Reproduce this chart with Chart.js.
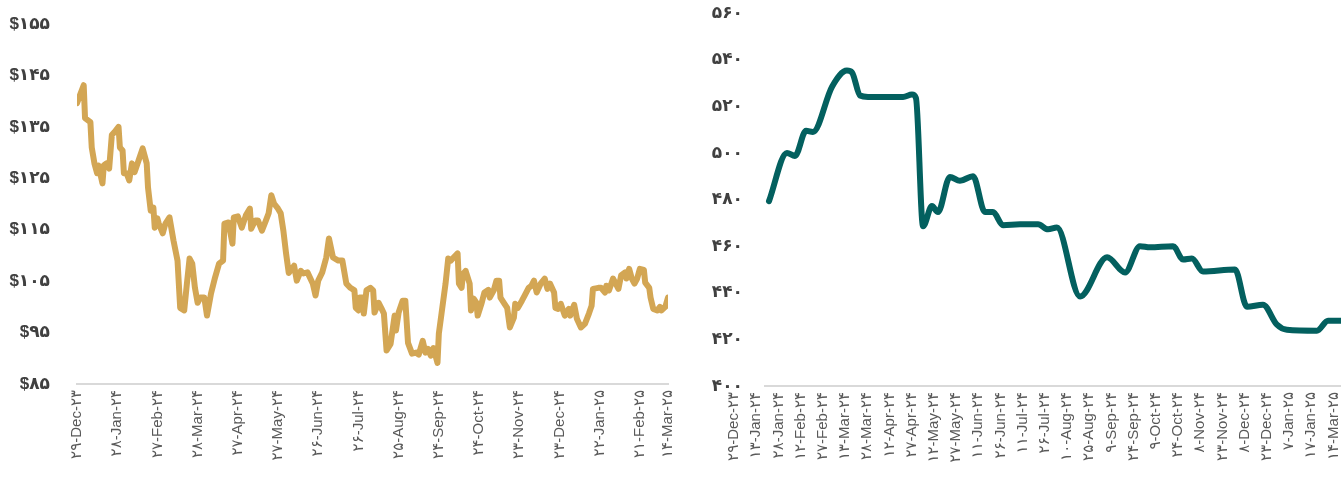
<!DOCTYPE html>
<html>
<head>
<meta charset="utf-8">
<script src="https://cdn.jsdelivr.net/npm/chart.js@4.4.1/dist/chart.umd.min.js"></script>
<style>
    html, body { margin: 0; padding: 0; background: #fff; overflow: hidden; }
    #left-box { position: absolute; left: 0; top: 0; width: 680px; height: 487px; }
    #right-box { position: absolute; left: 680px; top: 0; width: 700px; height: 487px; }
</style>
</head>
<body>
<div id="left-box"><canvas id="gold-chart"></canvas></div>
<div id="right-box"><canvas id="teal-chart"></canvas></div>
<script>
// 左: 日数(29-Dec-23からの経過日) と 価格
const goldDays = [0,5,6,10,11,13,15,16,19,20,22,24,26,28,31,32,34,35,37,39,41,43,46,49,52,53,55,57,58,60,61,64,66,69,72,75,77,80,82,84,86,88,90,92,95,97,100,103,106,109,110,113,116,117,120,123,126,129,130,133,135,138,141,143,145,147,150,152,154,156,158,162,164,167,169,172,176,178,180,183,186,188,191,195,198,201,204,207,208,210,211,213,214,216,219,221,222,225,227,229,231,234,237,238,240,243,245,247,250,253,255,258,260,262,264,266,269,270,272,275,277,279,281,284,285,287,288,290,293,294,296,298,299,302,304,307,308,311,313,315,316,319,321,323,326,327,329,332,334,337,339,341,343,346,349,351,353,356,357,359,361,364,367,368,371,373,376,379,382,384,385,389,391,394,395,397,400,402,404,406,409,410,412,414,416,418,420,423,424,427,428,430,433,435,436,439,441];
const goldValues = [139.6,143.1,136.7,135.9,131,127.9,126,127.5,124,127.5,127.9,126.9,133.4,134,135,131,130.4,126,126,124.6,127.9,126.2,128.5,130.8,127.9,123.2,118.7,119.3,115.4,117.2,116.2,114.3,116.2,117.4,112.9,109,99.8,99.3,104.5,109.4,108.4,103.7,100.8,101.8,101.8,98.3,102.6,105.7,108.4,109,116.2,116.4,112.3,117.4,117.6,115.4,117.8,119.1,115.2,116.8,116.8,114.8,116.8,118.2,121.7,120.1,119.1,118.2,114.8,110.4,106.6,108,105.1,107,106.5,106.7,104.5,102.2,105.1,106.7,109.6,113.3,109.6,109,109,104.5,103.7,103.2,99.8,99.3,101.8,101.8,98.7,103.2,103.7,103.2,98.9,100.8,99.8,98.7,91.5,92.8,98.3,95.4,98.9,101.2,101.2,93,90.9,91.1,90.7,93.4,91.1,91.8,90.5,92,89.1,94.8,98.7,104.5,109.4,109,109.6,110.4,104.5,103.7,106.4,107,104.5,99.3,101.6,100.8,98.3,100.8,102.8,103.3,101.8,103.2,105.1,105.1,101.8,100.6,99.8,96,97.9,100.6,99.8,101.2,102.2,103.7,104.1,105.1,102.8,104.5,105.5,103.5,104.5,102.8,99.8,99.6,100.6,98.3,99.6,98.3,100.4,97.7,96,96.7,98.7,100.2,103.5,103.7,103.7,102.8,104.1,103.2,105.5,104.5,103.5,106.1,106.7,105.5,107.4,105.5,104.5,105.5,107.4,107.2,104.7,103.7,101.8,99.6,99.3,100,99.3,100,101.8];
const goldTickPos = [0,30,60,90,120,150,180,210,240,270,300,330,360,390,420,441];
const goldTickLabels = ['۲۹-Dec-۲۳','۲۸-Jan-۲۴','۲۷-Feb-۲۴','۲۸-Mar-۲۴','۲۷-Apr-۲۴','۲۷-May-۲۴','۲۶-Jun-۲۴','۲۶-Jul-۲۴','۲۵-Aug-۲۴','۲۴-Sep-۲۴','۲۴-Oct-۲۴','۲۳-Nov-۲۴','۲۳-Dec-۲۴','۲۲-Jan-۲۵','۲۱-Feb-۲۵','۱۴-Mar-۲۵'];

// 右: 位置はラベル間隔単位
const tealX = [0.18,0.99,1.35,1.85,2.16,3.02,3.69,3.92,4.28,4.64,6.22,6.62,6.8,7.12,7.52,7.79,8.33,8.78,9.37,9.91,10.27,10.72,11.49,12.3,12.75,13.15,14.19,15.41,16.22,16.89,17.34,18.38,18.83,19.23,19.73,21.17,21.71,22.43,23.06,23.51,24.86,25.36,25.95];
const tealValues = [479.3,500,498.7,509.5,509,528.4,535.3,534.5,524.6,524,524,525,523.5,468.5,477.2,474.6,489.7,488,490,474.6,474.6,469,469.4,469.4,467.2,468,438.4,455.2,448.7,460,459.5,460,454.3,454.7,449.1,450,434,434.9,426.3,424.1,423.7,428,428];
const tealTickPos = [0,1,2,3,4,5,6,7,8,9,10,11,12,13,14,15,16,17,18,19,20,21,22,23,24,25,26,27];
const tealTickLabels = ['۲۹-Dec-۲۳','۱۳-Jan-۲۴','۲۸-Jan-۲۴','۱۲-Feb-۲۴','۲۷-Feb-۲۴','۱۳-Mar-۲۴','۲۸-Mar-۲۴','۱۲-Apr-۲۴','۲۷-Apr-۲۴','۱۲-May-۲۴','۲۷-May-۲۴','۱۱-Jun-۲۴','۲۶-Jun-۲۴','۱۱-Jul-۲۴','۲۶-Jul-۲۴','۱۰-Aug-۲۴','۲۵-Aug-۲۴','۹-Sep-۲۴','۲۴-Sep-۲۴','۹-Oct-۲۴','۲۴-Oct-۲۴','۸-Nov-۲۴','۲۳-Nov-۲۴','۸-Dec-۲۴','۲۳-Dec-۲۴','۷-Jan-۲۵','۱۷-Jan-۲۵','۱۴-Mar-۲۵'];

const FONT = "'Liberation Sans', 'DejaVu Sans', sans-serif";

function toFa(n) {
    return String(n).replace(/[0-9]/g, d => '۰۱۲۳۴۵۶۷۸۹'[d]);
}

function pairUp(xs, values) {
    return xs.map((x, i) => ({ x: x, y: values[i] }));
}

function xAxis(tickPos, tickLabels, max, height, shift) {
    return {
        type: 'linear',
        min: 0,
        max: max,
        afterBuildTicks: function(axis) {
            axis.ticks = tickPos.map(v => ({ value: v }));
        },
        afterFit: function(axis) {
            axis.height = height;
            axis.paddingLeft = 0;
            axis.paddingRight = 0;
        },
        ticks: {
            autoSkip: false,
            minRotation: 90,
            maxRotation: 90,
            padding: 6,
            labelOffset: shift,
            color: '#595959',
            font: { family: FONT, size: 15 },
            callback: function(value) {
                const i = tickPos.indexOf(value);
                return i >= 0 ? tickLabels[i] : '';
            }
        },
        grid: { display: false, drawTicks: false },
        border: { display: true, color: '#d9d9d9', width: 2 }
    };
}

function yAxis(min, max, step, width, pad, fmt) {
    return {
        min: min,
        max: max,
        afterBuildTicks: function(axis) {
            const t = [];
            for (let v = min; v <= max; v += step) t.push({ value: v });
            axis.ticks = t;
        },
        afterFit: function(axis) {
            axis.width = width;
            axis.paddingTop = 0;
            axis.paddingBottom = 0;
        },
        ticks: {
            padding: pad,
            color: '#404040',
            font: { family: FONT, size: 17, weight: 'bold' },
            callback: fmt
        },
        grid: { display: false, drawTicks: false },
        border: { display: false }
    };
}

document.addEventListener('DOMContentLoaded', function() {
    // 金色ライン
    new Chart(document.getElementById('gold-chart'), {
        type: 'line',
        data: {
            datasets: [{
                data: pairUp(goldDays, goldValues),
                borderColor: '#d3a654',
                borderWidth: 6,
                pointRadius: 0,
                tension: 0,
                borderJoinStyle: 'round',
                borderCapStyle: 'round'
            }]
        },
        options: {
            responsive: true,
            maintainAspectRatio: false,
            animation: false,
            layout: { padding: { top: 24, right: 12, left: 0, bottom: 0 } },
            plugins: { legend: { display: false }, tooltip: { enabled: false } },
            scales: {
                x: xAxis(goldTickPos, goldTickLabels, 441, 103, 0),
                y: yAxis(85, 155, 10, 77, 27, v => '$' + toFa(v))
            }
        }
    });

    // 緑ライン
    new Chart(document.getElementById('teal-chart'), {
        type: 'line',
        data: {
            datasets: [{
                data: pairUp(tealX, tealValues),
                borderColor: '#03605f',
                borderWidth: 6,
                pointRadius: 0,
                cubicInterpolationMode: 'monotone',
                borderCapStyle: 'round',
                borderJoinStyle: 'round'
            }]
        },
        options: {
            responsive: true,
            maintainAspectRatio: false,
            animation: false,
            layout: { padding: { top: 13, right: 15.6, left: 0, bottom: 0 } },
            plugins: { legend: { display: false }, tooltip: { enabled: false } },
            scales: {
                x: xAxis(tealTickPos, tealTickLabels, 27, 101, -31),
                y: yAxis(400, 560, 20, 85, 22, v => toFa(v))
            }
        }
    });
});
</script>
</body>
</html>
